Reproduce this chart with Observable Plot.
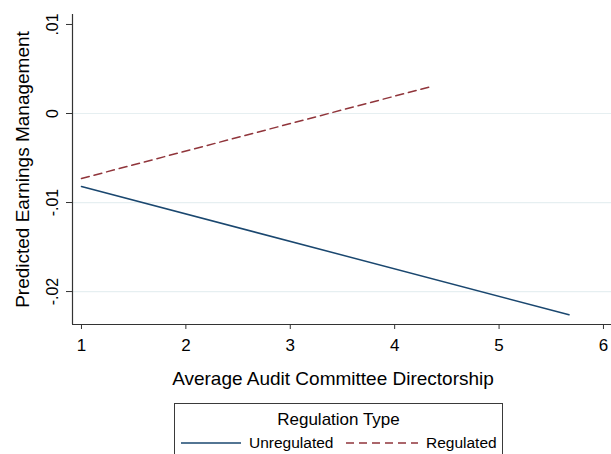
<!DOCTYPE html>
<html>
<head>
<meta charset="utf-8">
<script src="https://cdn.jsdelivr.net/npm/d3@7"></script>
<script src="https://cdn.jsdelivr.net/npm/@observablehq/plot@0.6"></script>
<style>
  body { margin: 0; background: #fff; font-family: "Liberation Sans", Arial, sans-serif; color: #000; }
  #legend { position: relative; margin: 5px 0 0 174px; width: 329px; height: 60px; border: 1px solid #3a3a3a; box-sizing: border-box; }
  #legend .title { position: absolute; left: 0; right: 0; top: 6px; text-align: center; font-size: 17px; line-height: 20px; }
  #legend .item { position: absolute; top: 29px; height: 20px; display: flex; align-items: center; font-size: 15.5px; }
  #legend svg { display: block; margin-right: 8px; }
</style>
</head>
<body>
<div id="chart"></div>
<div id="legend"></div>
<script>
// Predicted earnings management by average audit committee directorship
const seriesNames = ["Unregulated", "Regulated"];
const seriesColors = ["#1a476f", "#90353b"];
const seriesDash = ["none", "8,5"];

const unregulatedX = [1.0, 5.67];
const unregulatedY = [-0.0082, -0.0226];
const regulatedX = [1.0, 4.34];
const regulatedY = [-0.0073, 0.0030];

const xTicks = [1, 2, 3, 4, 5, 6];
const xTickLabels = ["1", "2", "3", "4", "5", "6"];
const yTicks = [0.01, 0, -0.01, -0.02];
const yTickLabels = [".01", "0", "-.01", "-.02"];
const gridValues = [0, -0.01, -0.02];

const xTitle = "Average Audit Committee Directorship";
const yTitle = "Predicted Earnings Management";
const legendTitle = "Regulation Type";

const xDomain = [0.914, 6.077];
const yDomain = [-0.0237, 0.01112];

const unregulated = unregulatedX.map((x, i) => ({x, y: unregulatedY[i]}));
const regulated = regulatedX.map((x, i) => ({x, y: regulatedY[i]}));

const font = "Liberation Sans, Arial, sans-serif";

const chart = Plot.plot({
  width: 611,
  height: 398,
  marginLeft: 72,
  marginRight: 0,
  marginTop: 14,
  marginBottom: 74,
  x: {domain: xDomain},
  y: {domain: yDomain},
  style: {fontFamily: font, background: "#fff", color: "#000"},
  marks: [
    Plot.ruleY(gridValues, {stroke: "#e6eff1", strokeWidth: 1.2}),
    Plot.ruleX([xDomain[0]], {stroke: "#333", strokeWidth: 1.2}),
    Plot.ruleY([yDomain[0]], {stroke: "#333", strokeWidth: 1.2}),
    Plot.axisY({ticks: yTicks, tickSize: 6, tickFormat: () => "", label: null, stroke: "#333"}),
    Plot.text(yTicks, {
      y: d => d, text: (d, i) => yTickLabels[i], frameAnchor: "left",
      rotate: -90, dx: -20, textAnchor: "middle", lineAnchor: "middle", fontSize: 16, fill: "#000"
    }),
    Plot.axisX({ticks: xTicks, tickSize: 5, tickFormat: (d, i) => xTickLabels[i], label: null, text: null, stroke: "#333"}),
    Plot.text(xTicks, {
      x: d => d, text: (d, i) => xTickLabels[i], frameAnchor: "bottom",
      dy: 21, textAnchor: "middle", lineAnchor: "middle", fontSize: 17, fill: "#000"
    }),
    Plot.text([yTitle], {
      frameAnchor: "left", rotate: -90, dx: -50, textAnchor: "middle", lineAnchor: "middle", fontSize: 19, fill: "#000"
    }),
    Plot.text([xTitle], {
      frameAnchor: "bottom", dy: 54, dx: -9, textAnchor: "middle", lineAnchor: "middle", fontSize: 19, fill: "#000"
    }),
    Plot.line(unregulated, {x: "x", y: "y", stroke: seriesColors[0], strokeWidth: 1.5}),
    Plot.line(regulated, {x: "x", y: "y", stroke: seriesColors[1], strokeWidth: 1.5, strokeDasharray: seriesDash[1]})
  ]
});
document.getElementById("chart").append(chart);

// Legend box below the chart
const legend = d3.select("#legend");
legend.append("div").attr("class", "title").text(legendTitle);
const itemLeft = [6, 171];
const swatchWidth = [60, 72];
seriesNames.forEach((name, i) => {
  const item = legend.append("div").attr("class", "item").style("left", itemLeft[i] + "px");
  const svg = item.append("svg").attr("width", swatchWidth[i]).attr("height", 10);
  svg.append("line")
    .attr("x1", 0).attr("x2", swatchWidth[i]).attr("y1", 5).attr("y2", 5)
    .attr("stroke", seriesColors[i]).attr("stroke-width", 1.5)
    .attr("stroke-dasharray", seriesDash[i]);
  item.append("span").text(name);
});
</script>
</body>
</html>
